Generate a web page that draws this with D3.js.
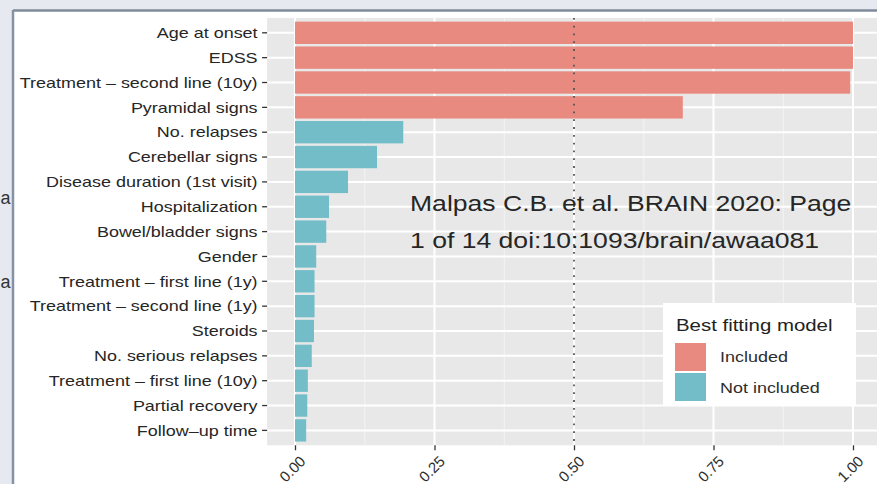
<!DOCTYPE html>
<html><head><meta charset="utf-8">
<script src="https://cdn.jsdelivr.net/npm/d3@7"></script>
<style>
body{margin:0;background:#fff;}
svg{display:block;}
text{font-family:"Liberation Sans",Arial,Helvetica,sans-serif;}
</style>
</head><body>
<svg id="c" width="877" height="484"></svg>
<script>
// ---------- data ----------
const categories = [
  "Age at onset","EDSS","Treatment – second line (10y)","Pyramidal signs",
  "No. relapses","Cerebellar signs","Disease duration (1st visit)","Hospitalization",
  "Bowel/bladder signs","Gender","Treatment – first line (1y)","Treatment – second line (1y)",
  "Steroids","No. serious relapses","Treatment – first line (10y)","Partial recovery","Follow–up time"
];
const importance = [1.00,1.00,0.995,0.695,0.194,0.147,0.095,0.061,0.056,0.038,0.035,0.035,0.034,0.030,0.023,0.022,0.020];
const groups = ["Included","Included","Included","Included",
  "Not included","Not included","Not included","Not included","Not included","Not included",
  "Not included","Not included","Not included","Not included","Not included","Not included","Not included"];
const groupNames = ["Included","Not included"];
const groupColors = ["#e88a7f","#72bdc8"];
const xTicks = [0,0.25,0.5,0.75,1];
const xTickLabels = ["0.00","0.25","0.50","0.75","1.00"];
const xMinorTicks = [0.125,0.375,0.625,0.875];
const refLine = 0.5;
const legendTitle = "Best fitting model";
const watermark = ["Malpas C.B. et al. BRAIN 2020: Page","1 of 14 doi:10:1093/brain/awaa081"];
const edgeLetters = ["a","a"];

// ---------- layout ----------
const W = 877, H = 484;
const SX = 1.23; // horizontal stretch of the photographed slide text
const svg = d3.select("#c");

const x = d3.scaleLinear().domain([0,1]).range([295,853]);
const panelTop = 17.9, panelBottom = 445.3;
const y = d3.scaleBand().domain(categories).range([panelTop,panelBottom]).paddingInner(0.1).paddingOuter(0.15);
const color = d3.scaleOrdinal().domain(groupNames).range(groupColors);
const panelLeft = x(-0.05), panelRight = x(1.05);

// slide background / frame
svg.append("rect").attr("x",0).attr("y",0).attr("width",W).attr("height",H).attr("fill","#e6eaf0");
svg.append("rect").attr("x",13).attr("y",10).attr("width",W-13).attr("height",H-10).attr("fill","#ffffff");
svg.append("line").attr("x1",13).attr("x2",W).attr("y1",10.5).attr("y2",10.5).attr("stroke","#7f8b9b").attr("stroke-width",2.5);
svg.append("line").attr("x1",13).attr("x2",13).attr("y1",10).attr("y2",H).attr("stroke","#8592a3").attr("stroke-width",2.5);
// slide letters peeking out at the left edge
edgeLetters.forEach((t,i)=>{
  svg.append("text").attr("x",0.5).attr("y",[204,288][i]).attr("font-size",18).attr("fill","#333").text(t);
});

// panel
svg.append("rect").attr("x",panelLeft).attr("y",panelTop).attr("width",panelRight-panelLeft)
  .attr("height",panelBottom-panelTop).attr("fill","#e8e8e8");
// minor grid
svg.append("g").selectAll("line").data(xMinorTicks).join("line")
  .attr("x1",d=>x(d)).attr("x2",d=>x(d)).attr("y1",panelTop).attr("y2",panelBottom)
  .attr("stroke","#f3f3f3").attr("stroke-width",1);
// major grid vertical
svg.append("g").selectAll("line").data(xTicks).join("line")
  .attr("x1",d=>x(d)).attr("x2",d=>x(d)).attr("y1",panelTop).attr("y2",panelBottom)
  .attr("stroke","#ffffff").attr("stroke-width",2);
// major grid horizontal
svg.append("g").selectAll("line").data(categories).join("line")
  .attr("x1",panelLeft).attr("x2",panelRight)
  .attr("y1",d=>y(d)+y.bandwidth()/2).attr("y2",d=>y(d)+y.bandwidth()/2)
  .attr("stroke","#ffffff").attr("stroke-width",2);

// bars
svg.append("g").selectAll("rect").data(categories).join("rect")
  .attr("x",x(0)).attr("y",d=>y(d))
  .attr("width",(d,i)=>x(importance[i])-x(0))
  .attr("height",y.bandwidth())
  .attr("fill",(d,i)=>color(groups[i]));

// reference dotted line
svg.append("line").attr("x1",x(refLine)).attr("x2",x(refLine)).attr("y1",panelTop).attr("y2",panelBottom)
  .attr("stroke","#555").attr("stroke-width",1.8).attr("stroke-dasharray","1.8,6");

// y axis
const yAxis = svg.append("g").attr("transform",`translate(${panelLeft},0)`)
  .call(d3.axisLeft(y).tickSize(5).tickPadding(4));
yAxis.select(".domain").remove();
yAxis.selectAll(".tick line").attr("stroke","#333").attr("stroke-width",1.3);
yAxis.selectAll(".tick text").attr("x",null).attr("dy","0.36em")
  .attr("transform",`translate(-9.5,0) scale(${SX},1)`)
  .attr("font-size",14.6).attr("fill","#262626").attr("font-family",null);

// x axis
const xAxis = svg.append("g").attr("transform",`translate(0,${panelBottom})`)
  .call(d3.axisBottom(x).tickValues(xTicks).tickFormat((d,i)=>xTickLabels[i]).tickSize(5).tickPadding(3));
xAxis.select(".domain").remove();
xAxis.selectAll(".tick line").attr("stroke","#333").attr("stroke-width",1.3);
xAxis.selectAll(".tick text").attr("y",null).attr("dy",null)
  .attr("text-anchor","end")
  .attr("transform","translate(11,17) rotate(-45)")
  .attr("font-size",15).attr("fill","#2e2e2e").attr("font-family",null);

// watermark text
watermark.forEach((t,i)=>{
  svg.append("text").attr("transform",`translate(410,${211+i*37}) scale(${SX},1)`)
    .attr("font-size",21.6).attr("fill","#262626").text(t);
});

// legend
const lg = svg.append("g");
lg.append("rect").attr("x",663).attr("y",303).attr("width",193).attr("height",103).attr("fill","#ffffff");
lg.append("text").attr("transform",`translate(676,331) scale(${SX},1)`)
  .attr("font-size",16.6).attr("fill","#222").text(legendTitle);
groupNames.forEach((g,i)=>{
  lg.append("rect").attr("x",675).attr("y",343+i*30).attr("width",31).attr("height",28).attr("fill",color(g));
  lg.append("text").attr("transform",`translate(720,${362+i*31}) scale(${SX},1)`)
    .attr("font-size",14.6).attr("fill","#2e2e2e").text(g);
});
</script>
</body></html>
